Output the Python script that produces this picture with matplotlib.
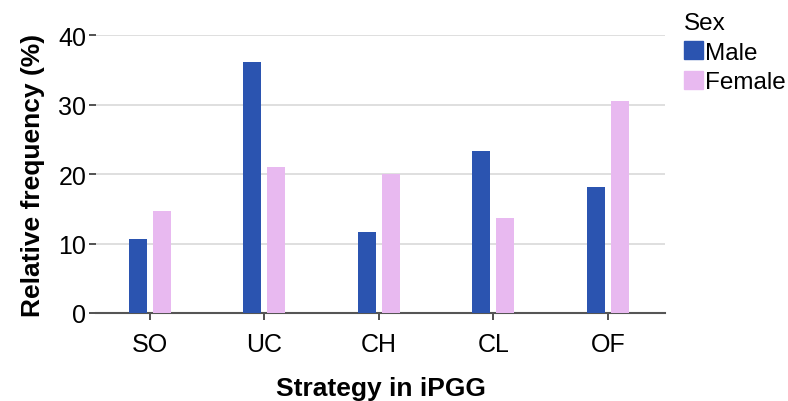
import numpy as np
import matplotlib
matplotlib.use('Agg')
import matplotlib.pyplot as plt
from matplotlib.patches import Patch

plt.rcParams['font.family'] = ['Liberation Sans', 'DejaVu Sans']

# data
estrategias = ['SO', 'UC', 'CH', 'CL', 'OF']
masculino = [10.6, 36.1, 11.7, 23.3, 18.1]
feminino = [14.7, 21.0, 20.0, 13.7, 30.5]

cor_m = '#2b54b0'
cor_f = '#e8b9f0'

fig = plt.figure(figsize=(7.88, 4.02), dpi=100)
ax = fig.add_axes([0.122, 0.219, 0.722, 0.691])

x = np.arange(len(estrategias))
largura = 0.157
ax.bar(x - 0.105, masculino, largura, color=cor_m, zorder=3)
ax.bar(x + 0.105, feminino, largura, color=cor_f, zorder=3)

ax.set_xlim(-0.47, 4.5)
ax.set_ylim(0, 40)
ax.set_yticks([0, 10, 20, 30, 40])
ax.set_xticks(x)
ax.set_xticklabels(estrategias)
ax.yaxis.grid(True, color='#d9d9d9', linewidth=1.2, zorder=0)
ax.tick_params(axis='both', labelsize=18, length=5, width=1.2, color='#333333')
ax.tick_params(axis='x', pad=9)
ax.tick_params(axis='y', pad=2)
for s in ['top', 'right', 'left']:
    ax.spines[s].set_visible(False)
ax.spines['bottom'].set_color('#555555')
ax.spines['bottom'].set_linewidth(1.5)

ax.set_ylabel('Relative frequency (%)', fontsize=19, fontweight='bold', labelpad=10)
ax.set_xlabel('Strategy in iPGG', fontsize=19, fontweight='bold', labelpad=14)

handles = [Patch(color=cor_m), Patch(color=cor_f)]
leg = fig.legend(handles, ['Male', 'Female'], title='Sex', loc='upper left',
                 bbox_to_anchor=(0.853, 0.998), frameon=False, fontsize=17.5,
                 title_fontsize=17.5, handlelength=0.75, handleheight=0.75,
                 handletextpad=0.1, labelspacing=0.3, borderpad=0)
leg._legend_box.align = 'left'

fig.savefig('out.png', dpi=100)
